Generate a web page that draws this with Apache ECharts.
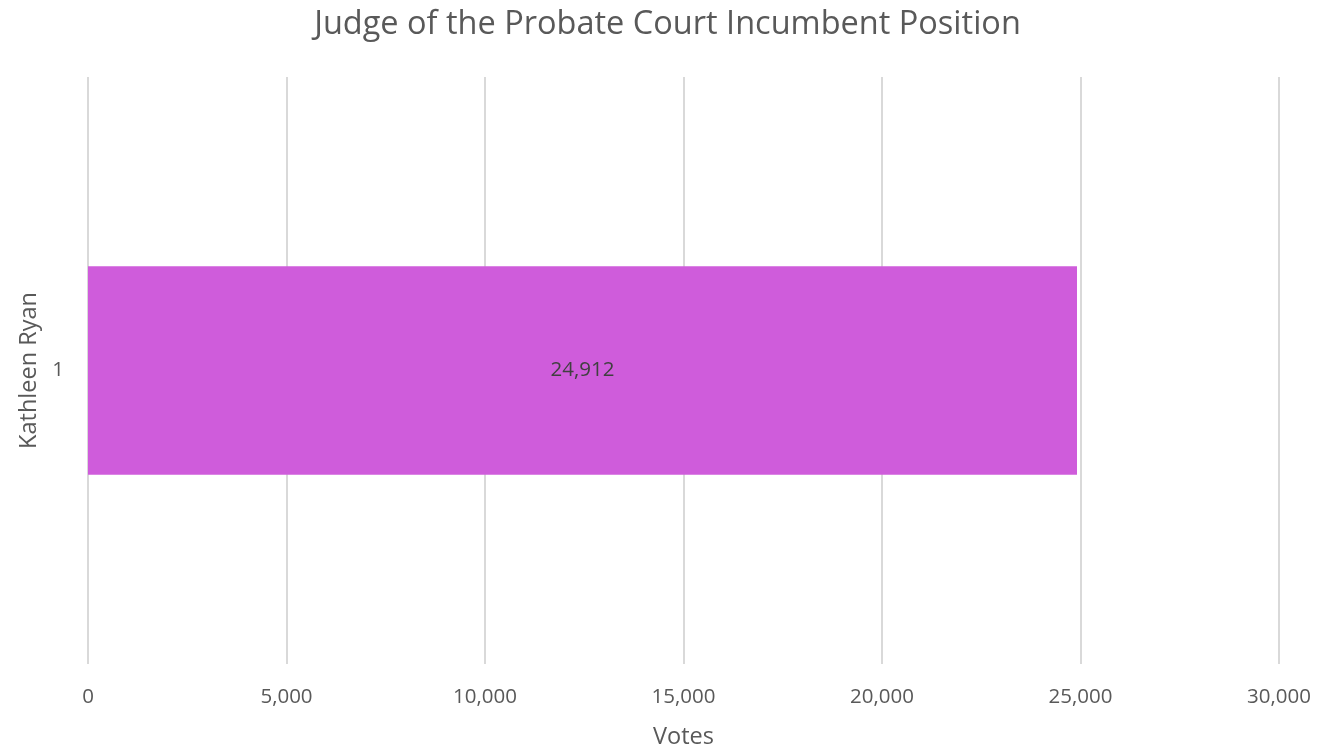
<!DOCTYPE html>
<html>
<head>
<meta charset="utf-8">
<script src="https://cdn.jsdelivr.net/npm/echarts@6/dist/echarts.min.js"></script>
<style>
html,body{margin:0;padding:0;background:#fff;}
#chart{width:1335px;height:754px;}
</style>
</head>
<body>
<div id="chart"></div>
<script>
const title = 'Judge of the Probate Court Incumbent Position';
const categories = ['1'];
const seriesName = 'Kathleen Ryan';
const votes = [24912];
const xTicks = { min: 0, max: 30000, interval: 5000 };
const xAxisName = 'Votes';

const font = '"Open Sans", "Noto Sans", sans-serif';
const chart = echarts.init(document.getElementById('chart'));
chart.setOption({
  backgroundColor: '#ffffff',
  animation: false,
  title: {
    text: title,
    left: 'center',
    top: 3,
    textStyle: { fontFamily: font, fontSize: 32.5, fontWeight: 'normal', color: '#595959' }
  },
  grid: { left: 88, right: 56, top: 77, bottom: 82, containLabel: false },
  xAxis: {
    type: 'value',
    min: xTicks.min, max: xTicks.max, interval: xTicks.interval,
    name: xAxisName,
    nameLocation: 'middle',
    nameGap: 61,
    nameTextStyle: { fontFamily: font, fontSize: 23.5, color: '#595959' },
    axisLine: { show: false },
    axisTick: { show: false },
    axisLabel: {
      fontFamily: font, fontSize: 20.5, color: '#595959', margin: 23,
      formatter: v => v.toLocaleString('en-US')
    },
    splitLine: { show: true, lineStyle: { color: '#d9d9d9', width: 2 } }
  },
  yAxis: {
    type: 'category',
    data: categories,
    name: seriesName,
    nameLocation: 'middle',
    nameRotate: 90,
    nameGap: 44,
    nameTextStyle: { fontFamily: font, fontSize: 23.5, color: '#595959' },
    axisLine: { show: false },
    axisTick: { show: false },
    axisLabel: { fontFamily: font, fontSize: 20.5, color: '#595959', margin: 24 },
    splitLine: { show: false }
  },
  series: [{
    type: 'bar',
    name: seriesName,
    data: votes,
    barWidth: '35.5%',
    itemStyle: { color: '#CF5CDB' },
    label: {
      show: true,
      position: 'inside',
      fontFamily: font, fontSize: 20.5, color: '#404040',
      formatter: p => p.value.toLocaleString('en-US')
    }
  }]
});
</script>
</body>
</html>
